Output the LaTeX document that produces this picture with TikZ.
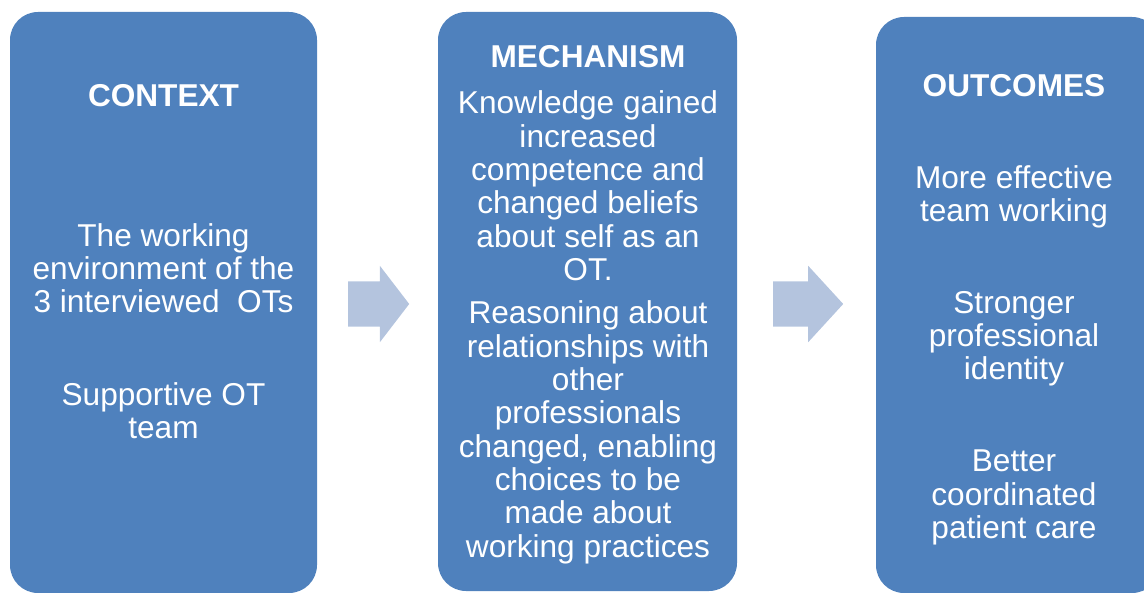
\documentclass[tikz,border=0pt]{standalone}
\usepackage{fontspec}
\setmainfont{Liberation Sans}
\usetikzlibrary{shapes.arrows}
\definecolor{boxblue}{RGB}{79,129,189}
\definecolor{arrowblue}{RGB}{180,196,222}
\tikzset{
  panel/.style={fill=boxblue, rounded corners=28pt, inner sep=0pt},
  txt/.style={text=white, align=center, inner sep=0pt, anchor=base,
    font=\fontsize{31.6}{33.3}\selectfont},
  ttl/.style={txt, font=\fontsize{31.6}{33.3}\selectfont\bfseries},
  blockarrow/.style={single arrow, fill=arrowblue, inner xsep=0pt, inner ysep=22.5pt,
    single arrow head indent=0pt, single arrow head extend=15.5pt, anchor=tail},
}
\begin{document}
\begin{tikzpicture}[x=1pt, y=-1pt]
  \useasboundingbox (0,0) rectangle (1144,593);
  \clip (0,0) rectangle (1144,593);
  % panels
  \node[panel, minimum width=307pt, minimum height=581pt] (ctx) at (163.5,302.5) {};
  \node[panel, minimum width=299pt, minimum height=579pt] (mech) at (587.5,301.5) {};
  \node[panel, minimum width=284pt, minimum height=576pt] (out) at (1018,305) {};
  % arrows
  \node[blockarrow, minimum height=61pt, single arrow tip angle=105] (a1) at (348,304) {};
  \node[blockarrow, minimum height=70pt, single arrow tip angle=95] (a2) at (773,304) {};
  % context
  \node[ttl] (ctxt) at (163.5,107) {CONTEXT};
  \node[txt] (ctx1) at (163.5,313) {The working\\environment of the\\3 interviewed\ \ OTs};
  \node[txt] (ctx2) at (163.5,438.5) {Supportive OT\\team};
  % mechanism
  \node[ttl] (mecht) at (588,67.5) {MECHANISM};
  \node[txt] (mech1) at (588,280.5) {Knowledge gained\\increased\\competence and\\changed beliefs\\about self as an\\OT.};
  \node[txt] (mech2) at (588,557) {Reasoning about\\relationships with\\other\\professionals\\changed, enabling\\choices to be\\made about\\working practices};
  % outcomes
  \node[ttl] (outt) at (1014,97) {OUTCOMES};
  \node[txt] (out1) at (1014,221.5) {More effective\\team working};
  \node[txt] (out2) at (1014,380) {Stronger\\professional\\identity};
  \node[txt] (out3) at (1014,538.5) {Better\\coordinated\\patient care};
\end{tikzpicture}
\end{document}
